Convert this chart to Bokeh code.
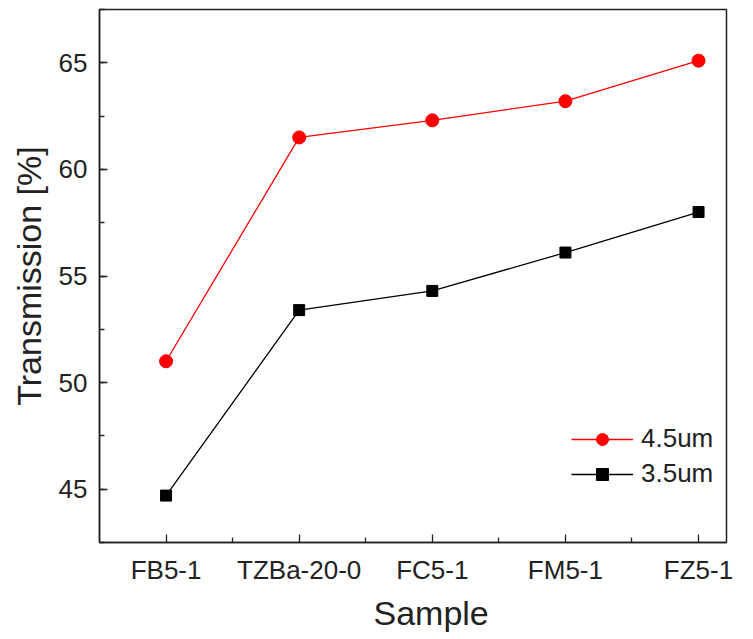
from bokeh.plotting import figure
from bokeh.models import Range1d, FixedTicker, SingleIntervalTicker, Legend, LegendItem, Title
from bokeh.embed import file_html
from bokeh.resources import INLINE

samples = ["FB5-1", "TZBa-20-0", "FC5-1", "FM5-1", "FZ5-1"]
t45 = [51.0, 61.5, 62.3, 63.2, 65.1]
t35 = [44.7, 53.4, 54.3, 56.1, 58.0]
labels = ["4.5um", "3.5um"]
x_title = "Sample"
y_title = "Transmission [%]"

xs = list(range(1, len(samples) + 1))
FONT = "Liberation Sans"
TXT = "#222222"

p = figure(width=753, height=639, output_backend="svg", toolbar_location=None,
           x_range=Range1d(0.5, 5.21), y_range=Range1d(42.5, 67.5),
           min_border_left=99, min_border_right=27, min_border_top=9, min_border_bottom=97)
p.background_fill_color = "white"
p.border_fill_color = "white"
p.outline_line_color = "#222222"
p.outline_line_width = 1.5
p.xgrid.visible = False
p.ygrid.visible = False

r1l = p.line(xs, t45, line_color="red", line_width=1.3)
r1m = p.scatter(xs, t45, marker="circle", size=13, fill_color="red", line_color="red")
r2l = p.line(xs, t35, line_color="black", line_width=1.3)
r2m = p.scatter(xs, t35, marker="square", size=11, fill_color="black", line_color="black")

for ax in (p.xaxis[0], p.yaxis[0]):
    ax.axis_line_width = 1.5
    ax.axis_line_color = "#222222"
    ax.major_tick_in = 8
    ax.major_tick_out = 0
    ax.minor_tick_in = 5
    ax.minor_tick_out = 0
    ax.major_tick_line_width = 1.3
    ax.minor_tick_line_width = 1.3
    ax.major_tick_line_color = "#222222"
    ax.minor_tick_line_color = "#222222"
    ax.major_label_text_font = FONT
    ax.major_label_text_font_size = "26px"
    ax.major_label_text_color = TXT
    ax.axis_label_text_font = FONT
    ax.axis_label_text_font_size = "34px"
    ax.axis_label_text_font_style = "normal"
    ax.axis_label_text_color = TXT
    ax.major_label_standoff = 12

p.xaxis.ticker = FixedTicker(ticks=xs, minor_ticks=[1.5, 2.5, 3.5, 4.5])
p.xaxis.major_label_overrides = {x: s for x, s in zip(xs, samples)}

p.yaxis.ticker = SingleIntervalTicker(interval=5, num_minor_ticks=2)
p.yaxis.axis_label = y_title
p.yaxis.axis_label_standoff = 8

# x-axis title (sits slightly right of centre in the reference)
p.add_layout(Title(text=x_title, align="left", offset=274, standoff=8,
                   text_font=FONT, text_font_size="34px", text_font_style="normal",
                   text_color=TXT), "below")

legend = Legend(items=[LegendItem(label=labels[0], renderers=[r1l, r1m]),
                       LegendItem(label=labels[1], renderers=[r2l, r2m])],
                location=(472, 53), border_line_color=None, background_fill_alpha=0,
                padding=0, margin=0, spacing=4, glyph_width=62, glyph_height=30,
                label_height=30, label_standoff=8,
                label_text_font=FONT, label_text_font_size="26px", label_text_color=TXT)
p.add_layout(legend)

open("out.html", "w").write(file_html(p, INLINE))
